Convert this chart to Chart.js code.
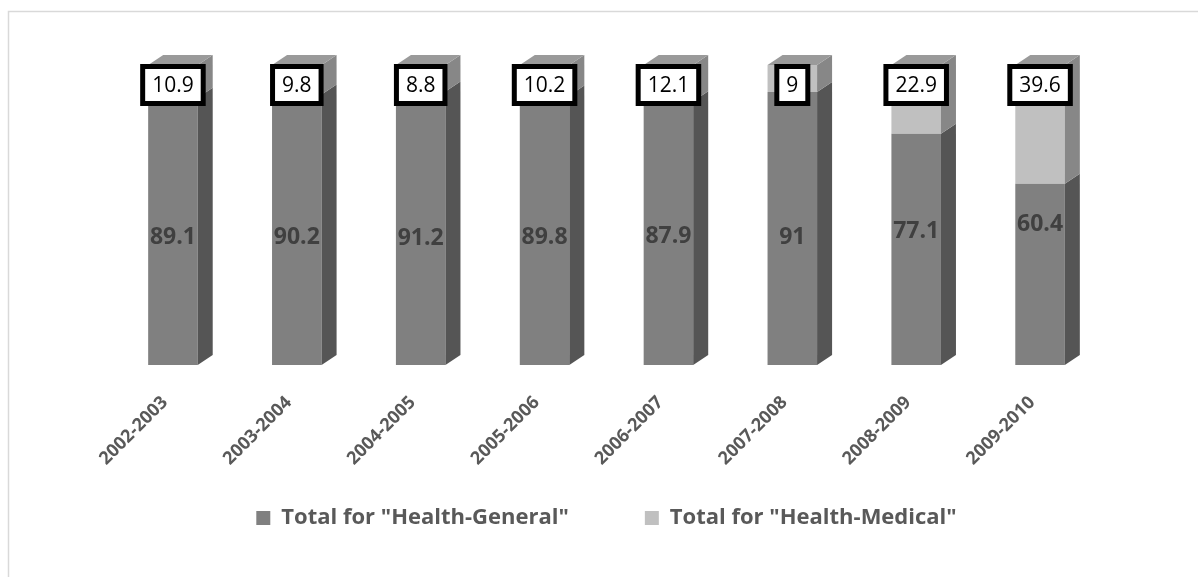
<!DOCTYPE html>
<html>
<head>
<meta charset="utf-8">
<script src="https://cdn.jsdelivr.net/npm/chart.js@4.4.1/dist/chart.umd.min.js"></script>
<style>
  body { margin: 0; background: #fff; }
  #wrap { position: relative; width: 1198px; height: 577px; }
</style>
</head>
<body>
<div id="wrap"><canvas id="grafico"></canvas></div>
<script>
// dados
const anos = ['2002-2003', '2003-2004', '2004-2005', '2005-2006', '2006-2007', '2007-2008', '2008-2009', '2009-2010'];
const geral = [89.1, 90.2, 91.2, 89.8, 87.9, 91, 77.1, 60.4];
const medico = [10.9, 9.8, 8.8, 10.2, 12.1, 9, 22.9, 39.6];

// cores: frente, lado, topo
const coresGeral = ['#808080', '#555555', '#6a6a6a'];
const coresMedico = ['#c0c0c0', '#878787', '#9a9a9a'];

const DX = 15, DY = 10; // profundidade do efeito 3d

// borda do grafico (so aparece esquerda e topo)
const borda = {
    id: 'borda',
    beforeDraw(chart) {
        const ctx = chart.ctx;
        ctx.save();
        ctx.strokeStyle = '#d9d9d9';
        ctx.lineWidth = 1.5;
        ctx.beginPath();
        ctx.moveTo(8.5, 600);
        ctx.lineTo(8.5, 11.5);
        ctx.lineTo(1300, 11.5);
        ctx.stroke();
        ctx.restore();
    }
};

// faces laterais e topo das barras
const efeito3d = {
    id: 'efeito3d',
    afterDatasetsDraw(chart) {
        const ctx = chart.ctx;
        const ultimo = chart.data.datasets.length - 1;
        chart.data.datasets.forEach(function(ds, i) {
            const meta = chart.getDatasetMeta(i);
            const cores = i === 0 ? coresGeral : coresMedico;
            meta.data.forEach(function(bar) {
                const p = bar.getProps(['x', 'y', 'base', 'width'], true);
                const dir = p.x + p.width / 2;
                const esq = p.x - p.width / 2;
                ctx.save();
                // lado
                ctx.fillStyle = cores[1];
                ctx.beginPath();
                ctx.moveTo(dir, p.y);
                ctx.lineTo(dir + DX, p.y - DY);
                ctx.lineTo(dir + DX, p.base - DY);
                ctx.lineTo(dir, p.base);
                ctx.closePath();
                ctx.fill();
                // topo
                if (i === ultimo) {
                    ctx.fillStyle = cores[2];
                    ctx.beginPath();
                    ctx.moveTo(esq, p.y);
                    ctx.lineTo(esq + DX, p.y - DY);
                    ctx.lineTo(dir + DX, p.y - DY);
                    ctx.lineTo(dir, p.y);
                    ctx.closePath();
                    ctx.fill();
                }
                ctx.restore();
            });
        });
    }
};

// rotulos dos valores
const rotulos = {
    id: 'rotulos',
    afterDatasetsDraw(chart) {
        const ctx = chart.ctx;
        const y = chart.scales.y;
        ctx.save();
        ctx.textAlign = 'center';
        ctx.textBaseline = 'middle';

        // serie geral: texto escuro no meio
        ctx.font = 'bold 23px "Open Sans"';
        ctx.fillStyle = '#404040';
        chart.getDatasetMeta(0).data.forEach(function(bar, j) {
            const v = geral[j];
            const py = y.getPixelForValue(56 - v * 0.15);
            ctx.fillText(String(v), bar.x, py);
        });

        // serie medica: caixa branca com borda preta no topo
        ctx.font = '21px "Open Sans"';
        chart.getDatasetMeta(1).data.forEach(function(bar, j) {
            const txt = String(medico[j]);
            const w = ctx.measureText(txt).width + 19;
            const h = 37;
            const cy = y.getPixelForValue(100) + 20;
            ctx.fillStyle = '#ffffff';
            ctx.strokeStyle = '#000000';
            ctx.lineWidth = 5;
            ctx.beginPath();
            ctx.rect(bar.x - w / 2, cy - h / 2, w, h);
            ctx.fill();
            ctx.stroke();
            ctx.fillStyle = '#000000';
            ctx.fillText(txt, bar.x, cy + 1);
        });
        ctx.restore();
    }
};

const config = {
    type: 'bar',
    data: {
        labels: anos,
        datasets: [{
            label: 'Total for "Health-General"',
            data: geral,
            backgroundColor: coresGeral[0]
        }, {
            label: 'Total for "Health-Medical"',
            data: medico,
            backgroundColor: coresMedico[0]
        }]
    },
    options: {
        responsive: false,
        animation: false,
        layout: {
            padding: { left: 111, right: 96, top: 65, bottom: 38 }
        },
        categoryPercentage: 1,
        barPercentage: 0.4,
        scales: {
            x: {
                stacked: true,
                grid: { display: false, drawTicks: false },
                border: { display: false },
                ticks: {
                    color: '#595959',
                    font: { family: 'Open Sans', size: 18, weight: 'bold' },
                    minRotation: 45,
                    maxRotation: 45,
                    padding: 27,
                    labelOffset: -8
                },
                afterFit(scale) {
                    scale.height = 132;
                }
            },
            y: {
                stacked: true,
                display: false,
                min: 0,
                max: 100
            }
        },
        plugins: {
            legend: {
                position: 'bottom',
                labels: {
                    color: '#595959',
                    font: { family: 'Open Sans', size: 22, weight: 'bold' },
                    boxWidth: 14,
                    boxHeight: 14,
                    padding: 10,
                    // espaco extra entre os dois itens da legenda
                    generateLabels(chart) {
                        const itens = Chart.defaults.plugins.legend.labels.generateLabels(chart);
                        itens[0].text += '\u2003\u2003\u2003';
                        return itens;
                    }
                }
            },
            tooltip: { enabled: false }
        }
    },
    plugins: [borda, efeito3d, rotulos]
};

document.addEventListener('DOMContentLoaded', function() {
    const canvas = document.getElementById('grafico');
    canvas.width = 1198;
    canvas.height = 577;
    new Chart(canvas.getContext('2d'), config);
});
</script>
</body>
</html>
